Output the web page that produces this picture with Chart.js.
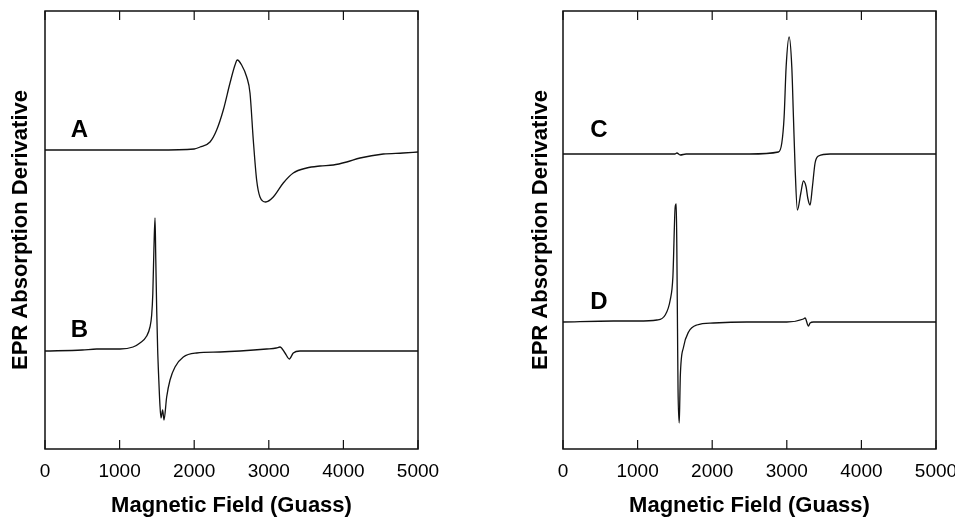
<!DOCTYPE html>
<html>
<head>
<meta charset="utf-8">
<script src="https://cdn.jsdelivr.net/npm/chart.js@4.4.0/dist/chart.umd.min.js"></script>
<style>
  html, body { margin: 0; padding: 0; background: #fff; }
  body { width: 955px; height: 517px; position: relative; overflow: hidden; }
  .panel { position: absolute; top: 0; }
  #left { left: 0; }
  #right { left: 520px; }
</style>
</head>
<body>
<div class="panel" id="left"><canvas id="chartLeft" width="478" height="517"></canvas></div>
<div class="panel" id="right"><canvas id="chartRight" width="435" height="517"></canvas></div>
<script>
// Field axis ticks (Gauss)
const X_TICKS = [0, 1000, 2000, 3000, 4000, 5000];

// Spectrum A (top left)
const aField = [0, 500, 1000, 1500, 2000, 2078, 2212, 2301, 2390, 2480, 2547, 2578, 2636, 2704, 2748, 2792, 2837, 2882, 2958, 3060, 3194, 3328, 3507, 3686, 3865, 4044, 4223, 4535, 4800, 5000];
const aSignal = [299, 299, 299, 299, 300, 302, 307, 319, 339, 366, 384, 389, 384, 372, 356, 309, 269, 252, 247, 252, 266, 276, 281, 283, 284, 287, 291, 295, 296, 297];

// Spectrum B (bottom left)
const bField = [0, 500, 693, 750, 1005, 1180, 1273, 1363, 1407, 1430, 1445, 1460, 1475, 1485, 1497, 1510, 1525, 1540, 1555, 1577, 1595, 1631, 1676, 1743, 1854, 2033, 2346, 2614, 2971, 3100, 3150, 3217, 3275, 3328, 3418, 4000, 5000];
const bSignal = [98, 99, 100, 100, 100, 102, 106, 113, 122, 134, 155, 200, 231, 190, 140, 100, 70, 45, 31, 39, 29, 52, 69, 82, 92, 96, 97, 98, 100, 101, 102, 96, 90, 96, 98, 98, 98];

// Spectrum C (top right)
const cField = [0, 1000, 1500, 1527, 1572, 1650, 2000, 2500, 2888, 2933, 2964, 2991, 3031, 3067, 3089, 3111, 3142, 3188, 3223, 3259, 3281, 3312, 3343, 3379, 3424, 3580, 4000, 5000];
const cSignal = [295, 295, 295, 296, 294, 295, 295, 295, 297, 306, 332, 382, 412, 382, 332, 282, 239, 256, 268, 262, 251, 244, 262, 286, 293, 295, 295, 295];

// Spectrum D (bottom right)
const dField = [0, 678, 1000, 1259, 1370, 1437, 1473, 1504, 1518, 1526, 1535, 1542, 1558, 1566, 1572, 1616, 1683, 1795, 2018, 2465, 3000, 3223, 3245, 3290, 3312, 3357, 4000, 5000];
const dSignal = [127, 128, 128, 129, 134, 149, 172, 242, 245, 200, 120, 60, 26, 50, 72, 102, 117, 124, 126, 127, 127, 130, 131, 123, 126, 127, 127, 127];

// Panel letters, placed in data units
const leftLetters = [{ text: 'A', x: 462, y: 319 }, { text: 'B', x: 462, y: 119 }];
const rightLetters = [{ text: 'C', x: 480, y: 319 }, { text: 'D', x: 480, y: 147 }];

const FONT = '"Liberation Sans", Arial, Helvetica, sans-serif';
const INK = '#111';

function toPoints(xs, ys) {
    return xs.map((x, i) => ({ x: x, y: ys[i] }));
}

// Frame box, inward ticks top and bottom, panel letters
const framePlugin = {
    id: 'frame',
    afterDatasetsDraw(chart, args, opts) {
        const { ctx, chartArea: a, scales: { x, y } } = chart;
        ctx.save();
        ctx.strokeStyle = INK;
        ctx.lineWidth = 1.5;
        ctx.strokeRect(a.left, a.top, a.right - a.left, a.bottom - a.top);
        ctx.lineWidth = 1.2;
        X_TICKS.forEach(v => {
            const px = x.getPixelForValue(v);
            ctx.beginPath();
            ctx.moveTo(px, a.top);
            ctx.lineTo(px, a.top + 9);
            ctx.moveTo(px, a.bottom);
            ctx.lineTo(px, a.bottom - 9);
            ctx.stroke();
        });
        ctx.fillStyle = '#000';
        ctx.font = 'bold 24px ' + FONT;
        ctx.textAlign = 'center';
        ctx.textBaseline = 'middle';
        (opts.letters || []).forEach(l => {
            ctx.fillText(l.text, x.getPixelForValue(l.x), y.getPixelForValue(l.y));
        });
        ctx.restore();
    }
};

function makePanel(canvasId, series, letters, yWidth, rightPad) {
    const ctx = document.getElementById(canvasId).getContext('2d');
    return new Chart(ctx, {
        type: 'line',
        data: {
            datasets: series.map(s => ({
                data: toPoints(s[0], s[1]),
                borderColor: INK,
                borderWidth: 1.3,
                pointRadius: 0,
                fill: false,
                cubicInterpolationMode: 'monotone'
            }))
        },
        options: {
            responsive: false,
            animation: false,
            layout: { padding: { left: 0, right: rightPad, top: 11, bottom: 0 } },
            plugins: {
                legend: { display: false },
                tooltip: { enabled: false },
                frame: { letters: letters }
            },
            scales: {
                x: {
                    type: 'linear',
                    min: 0,
                    max: 5000,
                    ticks: {
                        stepSize: 1000,
                        color: '#000',
                        padding: 11,
                        maxRotation: 0,
                        font: { family: FONT, size: 19 },
                        callback: v => String(v)
                    },
                    grid: { display: false, drawTicks: false },
                    border: { display: false },
                    title: {
                        display: true,
                        text: 'Magnetic Field (Guass)',
                        color: '#000',
                        font: { family: FONT, size: 22, weight: 'bold', lineHeight: 1.0 },
                        padding: { top: 0, bottom: 0 }
                    },
                    afterFit: scale => {
                        scale.height = 68;
                        scale.paddingLeft = 0;
                        scale.paddingRight = 0;
                    }
                },
                y: {
                    type: 'linear',
                    min: 0,
                    max: 438,
                    ticks: { display: false },
                    grid: { display: false, drawTicks: false },
                    border: { display: false },
                    title: {
                        display: true,
                        text: 'EPR Absorption Derivative',
                        color: '#000',
                        font: { family: FONT, size: 22, weight: 'bold' },
                        padding: { top: 8, bottom: 0 }
                    },
                    afterFit: scale => { scale.width = yWidth; }
                }
            }
        },
        plugins: [framePlugin]
    });
}

makePanel('chartLeft', [[aField, aSignal], [bField, bSignal]], leftLetters, 45, 60);
makePanel('chartRight', [[cField, cSignal], [dField, dSignal]], rightLetters, 43, 19);
</script>
</body>
</html>
